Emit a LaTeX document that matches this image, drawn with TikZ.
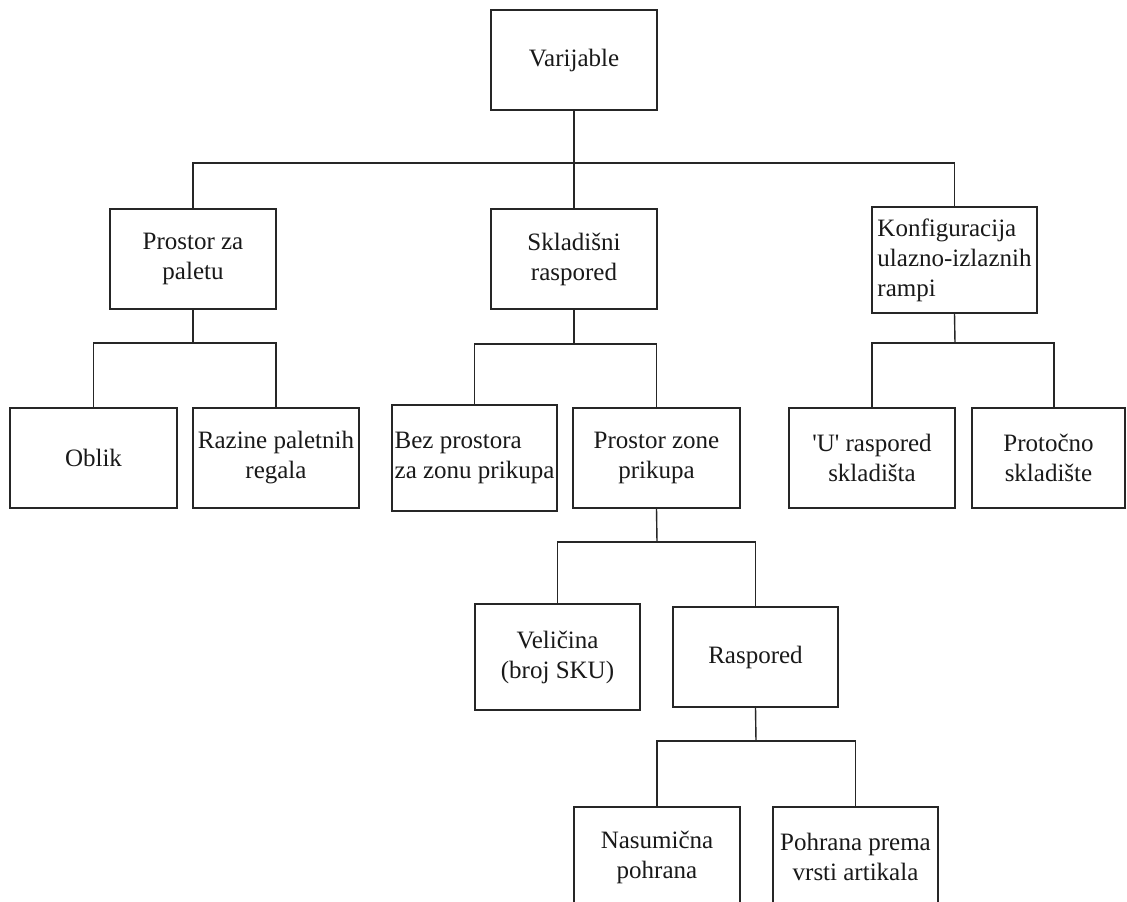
\documentclass[tikz,border=0pt]{standalone}
\usepackage{fontspec}
\setmainfont{Liberation Serif}
\usetikzlibrary{calc}
\begin{document}
\begin{tikzpicture}[x=1pt,y=-1pt,
  box/.style={draw=black!85, line width=1.4pt, inner sep=1pt, align=center,
    text=black!90, font=\fontsize{25}{30}\selectfont, minimum width=166pt, minimum height=100pt},
  lbox/.style={box, align=left},
  conn/.style={draw=black!85, line width=1.4pt}]
\useasboundingbox (0,0) rectangle (1127,902);
\clip (0,0) rectangle (1127,902);
\fill[white] (0,0) rectangle (1127,902);
% nodes
\node[box] (var) at (574,60) {Varijable};
\node[box] (pzp) at (193,259) {Prostor za\\paletu};
\node[box] (skl) at (574,259) {Skladišni\\raspored};
\node[lbox, minimum width=165pt, minimum height=106pt] (kon) at (954.5,260) {Konfiguracija\\ulazno-izlaznih\\rampi};
\node[box, minimum width=167pt] (obl) at (93.5,458) {Oblik};
\node[box] (raz) at (276,458) {Razine paletnih\\regala};
\node[lbox, minimum width=165pt, minimum height=106pt] (bez) at (474.5,458) {Bez prostora\\za zonu prikupa};
\node[box, minimum width=167pt] (pzz) at (656.5,458) {Prostor zone\\prikupa};
\node[box] (uras) at (872,458) {\textquotesingle U\textquotesingle{} raspored\\skladišta};
\node[box, minimum width=153pt] (pro) at (1048.5,458) {Protočno\\skladište};
\node[box, minimum width=165pt, minimum height=106pt] (vel) at (557.5,657) {Veličina\\(broj SKU)};
\node[box, minimum width=165pt] (ras) at (755.5,657) {Raspored};
\node[box] (nas) at (657,857) {Nasumična\\pohrana};
\node[box, minimum width=165pt] (poh) at (855.5,857) {Pohrana prema\\vrsti artikala};
% bus coordinates
\coordinate (b1) at (574,163);
\coordinate (b2) at (193,343);
\coordinate (b3) at (574,344);
\coordinate (b4) at (955,343);
\coordinate (b5) at (657,542);
\coordinate (b6) at (756,741);
\coordinate (proT) at ($(pro.north)+(5.5,0)$);
% connectors
\draw[conn] (var.south) -- (skl.north);
\draw[conn] (pzp.north) -- (pzp.north |- b1) -- (kon.north |- b1) -- (kon.north);
\draw[conn] (pzp.south) -- (b2);
\draw[conn] (obl.north) -- (obl.north |- b2) -- (raz.north |- b2) -- (raz.north);
\draw[conn] (skl.south) -- (b3);
\draw[conn] (bez.north) -- (bez.north |- b3) -- (pzz.north |- b3) -- (pzz.north);
\draw[conn] (kon.south) -- (b4);
\draw[conn] (uras.north) -- (uras.north |- b4) -- (proT |- b4) -- (proT);
\draw[conn] (pzz.south) -- (b5);
\draw[conn] (vel.north) -- (vel.north |- b5) -- (ras.north |- b5) -- (ras.north);
\draw[conn] (ras.south) -- (b6);
\draw[conn] (nas.north) -- (nas.north |- b6) -- (poh.north |- b6) -- (poh.north);
\end{tikzpicture}
\end{document}
